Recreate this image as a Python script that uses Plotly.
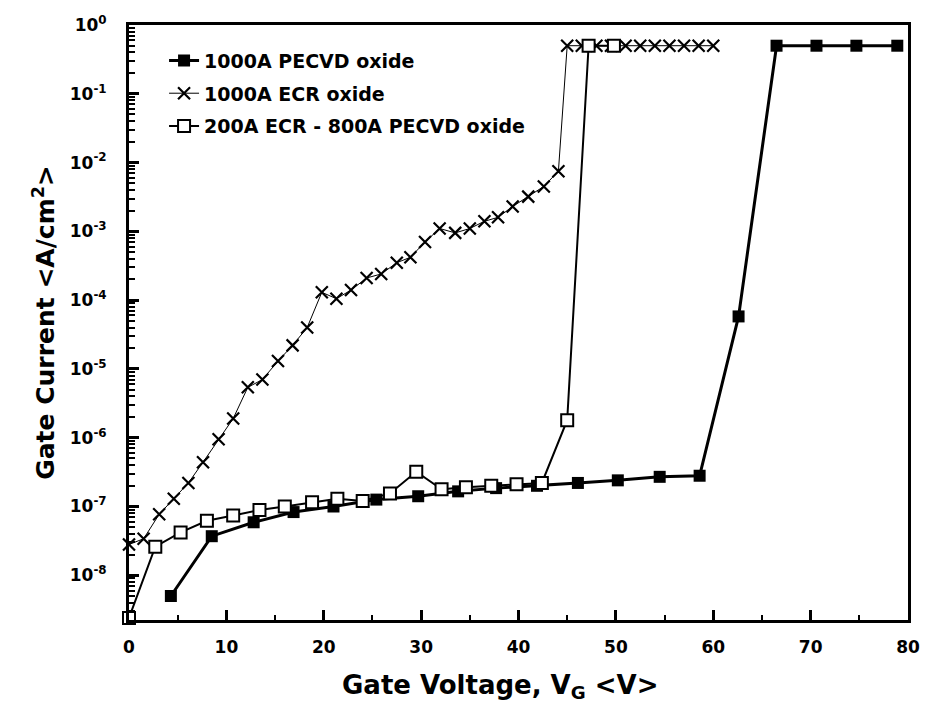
import plotly.graph_objects as go

# --- data ---
pecvd_x = [4.3, 8.5, 12.8, 16.9, 21.0, 25.4, 29.7, 33.8, 37.7, 41.9, 46.1, 50.2, 54.5, 58.6, 62.6, 66.5, 70.6, 74.7, 78.9]
pecvd_y = [5e-9, 3.7e-8, 5.9e-8, 8.3e-8, 1.0e-7, 1.26e-7, 1.41e-7, 1.66e-7, 1.85e-7, 2.0e-7, 2.2e-7, 2.4e-7, 2.7e-7, 2.8e-7, 5.8e-5, 0.5, 0.5, 0.5, 0.5]

ecr_x = [0.0, 1.5, 3.1, 4.6, 6.1, 7.6, 9.2, 10.7, 12.2, 13.7, 15.3, 16.8, 18.3, 19.8, 21.3, 22.8, 24.4, 25.9, 27.5, 28.9,
         30.4, 31.9, 33.5, 35.0, 36.5, 37.9, 39.4, 41.0, 42.6, 44.1,
         45.0, 46.5, 48.0, 49.5, 51.0, 52.5, 54.0, 55.5, 57.0, 58.5, 60.0]
ecr_y = [2.8e-8, 3.4e-8, 7.7e-8, 1.3e-7, 2.2e-7, 4.4e-7, 9.5e-7, 1.9e-6, 5.4e-6, 7e-6, 1.3e-5, 2.2e-5, 4e-5, 1.3e-4, 1.05e-4, 1.4e-4, 2.1e-4, 2.4e-4, 3.5e-4, 4.2e-4,
         7e-4, 1.1e-3, 9.5e-4, 1.1e-3, 1.4e-3, 1.6e-3, 2.3e-3, 3.2e-3, 4.5e-3, 7.5e-3,
         0.5, 0.5, 0.5, 0.5, 0.5, 0.5, 0.5, 0.5, 0.5, 0.5, 0.5]

mix_x = [0.0, 2.7, 5.3, 8.0, 10.7, 13.4, 16.0, 18.8, 21.4, 24.0, 26.8, 29.5, 32.1, 34.6, 37.2, 39.8, 42.4, 45.0, 47.2, 49.8]
mix_y = [2.4e-9, 2.6e-8, 4.2e-8, 6.2e-8, 7.4e-8, 8.9e-8, 1.0e-7, 1.15e-7, 1.3e-7, 1.2e-7, 1.55e-7, 3.2e-7, 1.78e-7, 1.9e-7, 2.0e-7, 2.1e-7, 2.2e-7, 1.8e-6, 0.5, 0.5]

names = ["1000A PECVD oxide", "1000A ECR oxide", "200A ECR - 800A PECVD oxide"]

# --- axis ticks ---
x_major = [0, 10, 20, 30, 40, 50, 60, 70, 80]
x_minor = [5, 15, 25, 35, 45, 55, 65, 75]
decades = list(range(-8, 1))
y_major = [10.0 ** d for d in decades]
y_minor = [m * 10.0 ** d for d in range(-9, 0) for m in range(2, 10)]
tick_text = ["10<sup>%d</sup>" % d for d in decades]
X_RANGE = [0, 80]
LOG_RANGE = [-8.65, 0]

FONT = "DejaVu Sans, Arial, sans-serif"

fig = go.Figure()
fig.add_trace(go.Scatter(
    x=pecvd_x, y=pecvd_y, name=names[0], legendgroup="a", mode="lines+markers",
    line=dict(color="black", width=3),
    marker=dict(symbol="square", size=12, color="black"), cliponaxis=False))
fig.add_trace(go.Scatter(
    x=ecr_x, y=ecr_y, name=names[1], legendgroup="b", mode="lines+markers",
    line=dict(color="black", width=1),
    marker=dict(symbol="x-thin-open", size=12, color="black", line=dict(width=2.2, color="black")), cliponaxis=False))
fig.add_trace(go.Scatter(
    x=mix_x, y=mix_y, name=names[2], legendgroup="c", mode="lines+markers",
    line=dict(color="black", width=2),
    marker=dict(symbol="square", size=12, color="white", line=dict(width=2, color="black")), cliponaxis=False))

fig.update_layout(
    width=939, height=711,
    margin=dict(l=129, r=31, t=25, b=91),
    paper_bgcolor="white", plot_bgcolor="white",
    font=dict(family=FONT, color="black", size=14, weight="bold"),
    showlegend=True,
    legend=dict(x=0.045, y=0.972, xanchor="left", yanchor="top", bgcolor="rgba(0,0,0,0)",
                tracegroupgap=5, font=dict(size=19, family=FONT, weight="bold")),
    xaxis=dict(
        range=X_RANGE, tickmode="array", tickvals=x_major,
        ticks="inside", ticklen=10, tickwidth=3, tickcolor="black",
        minor=dict(tickmode="array", tickvals=x_minor, ticks="inside", ticklen=5,
                   tickwidth=2, tickcolor="black", showgrid=False),
        showline=True, linewidth=3, linecolor="black", mirror=True,
        showgrid=False, zeroline=False, ticklabelstandoff=10,
        tickfont=dict(size=17, family=FONT, weight="bold"),
    ),
    yaxis=dict(
        type="log", range=LOG_RANGE,
        tickmode="array", tickvals=y_major, ticktext=tick_text,
        ticks="inside", ticklen=10, tickwidth=3, tickcolor="black",
        minor=dict(tickmode="array", tickvals=y_minor, ticks="inside", ticklen=6,
                   tickwidth=2, tickcolor="black", showgrid=False),
        showline=True, linewidth=3, linecolor="black", mirror=True,
        showgrid=False, zeroline=False, ticklabelstandoff=16,
        tickfont=dict(size=17, family=FONT, weight="bold"),
        title=dict(text="Gate Current <A/cm<sup>2</sup>>", font=dict(size=25, family=FONT, weight="bold"), standoff=8),
    ),
    annotations=[dict(
        text="Gate Voltage, V<sub>G</sub> <V>", xref="paper", yref="paper",
        x=0.476, y=-0.081, xanchor="center", yanchor="top", showarrow=False,
        font=dict(size=26, family=FONT, weight="bold", color="black"))],
)

fig.write_html("out.html")
